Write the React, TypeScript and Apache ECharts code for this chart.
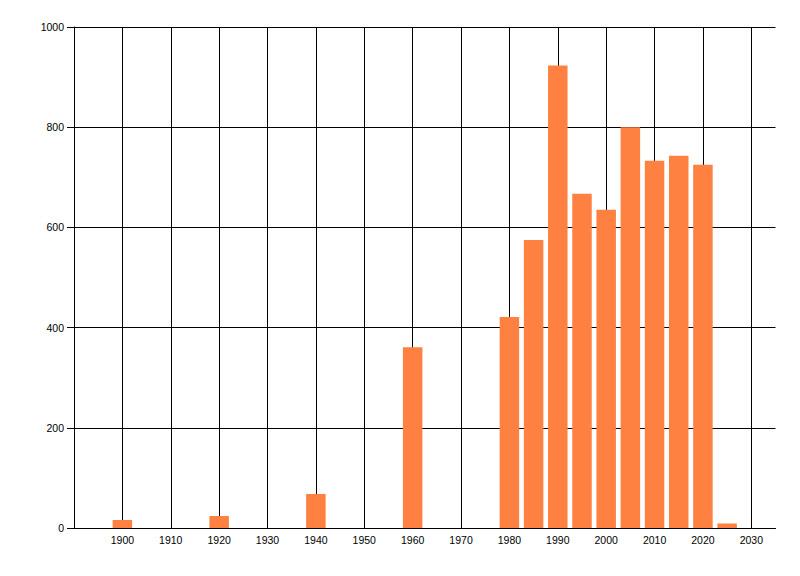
import React, { useEffect, useRef } from "react";
import * as echarts from "echarts";

const years = [1900, 1920, 1940, 1960, 1980, 1985, 1990, 1995, 2000, 2005, 2010, 2015, 2020, 2025];
const counts = [16, 24, 68, 361, 421, 575, 923, 667, 635, 800, 733, 743, 725, 9];
const yTicks = [0, 200, 400, 600, 800, 1000];
const xMin = 1890;
const xMax = 2035;

export default function App() {
  const ref = useRef<HTMLDivElement>(null);
  useEffect(() => {
    document.body.style.margin = "0";
    const chart = echarts.init(ref.current!, null, { renderer: "svg" });
    const font = { fontFamily: "Liberation Sans, Arial, sans-serif", fontSize: 10.5, color: "#000" };
    chart.setOption({
      animation: false,
      backgroundColor: "#fff",
      grid: { left: 74, right: 24.5, top: 27, bottom: 48, containLabel: false },
      xAxis: {
        type: "value",
        min: xMin,
        max: xMax,
        interval: 10,
        axisLine: { show: true, onZero: false, lineStyle: { color: "#000", width: 1 } },
        axisTick: { show: false },
        axisLabel: {
          ...font,
          margin: 6,
          formatter: (v: number) => (v === xMin || v === xMax ? "" : String(v)),
        },
        splitLine: { show: true, showMinLine: false, showMaxLine: false, lineStyle: { color: "#000", width: 1 } },
      },
      yAxis: {
        type: "value",
        min: yTicks[0],
        max: yTicks[yTicks.length - 1],
        interval: yTicks[1] - yTicks[0],
        axisLine: { show: true, lineStyle: { color: "#000", width: 1 } },
        axisTick: { show: true, length: 7, lineStyle: { color: "#000" } },
        axisLabel: { ...font, margin: 10, formatter: (v: number) => String(v) },
        splitLine: { show: true, lineStyle: { color: "#000", width: 1 } },
      },
      series: [
        {
          type: "bar",
          data: years.map((y, i) => [y, counts[i]]),
          barWidth: 19.5,
          itemStyle: { color: "#FF8142" },
        },
      ],
    });
    return () => chart.dispose();
  }, []);
  return <div ref={ref} style={{ width: 800, height: 576 }} />;
}
